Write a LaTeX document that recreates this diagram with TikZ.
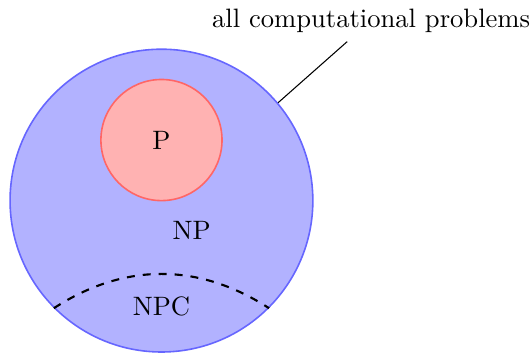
\documentclass[tikz,border=0pt]{standalone}
\usepackage{tikz}
\usetikzlibrary{positioning,arrows.meta,shapes.geometric}

\begin{document}
\begin{tikzpicture}[
			>=Stealth,
			bigset/.style={circle, draw=blue!60, fill=blue!30, semithick, minimum size=4cm},
			subset/.style={circle, draw=red!60, fill=red!30, semithick, minimum size=1.6cm}
		]
		\useasboundingbox (-2.133,-2.013) rectangle (4.895,2.65);
		% Sets
		\node[bigset] (NPset) at (0,0) {};
		\node[subset] (Pset) at (0,0.8) {P};
		\node (NPlabel) at (0.4,-0.4) {NP};
		\node (NPClabel) at (0,-1.4) {NPC};
		\node (all) at (2.77,2.38) {all computational problems};

		% Lines
		\draw[thick, dashed] (NPset.225) to[bend left=33] (NPset.315);
		\draw (NPset.40) -- (all);
	\end{tikzpicture}
\end{document}
